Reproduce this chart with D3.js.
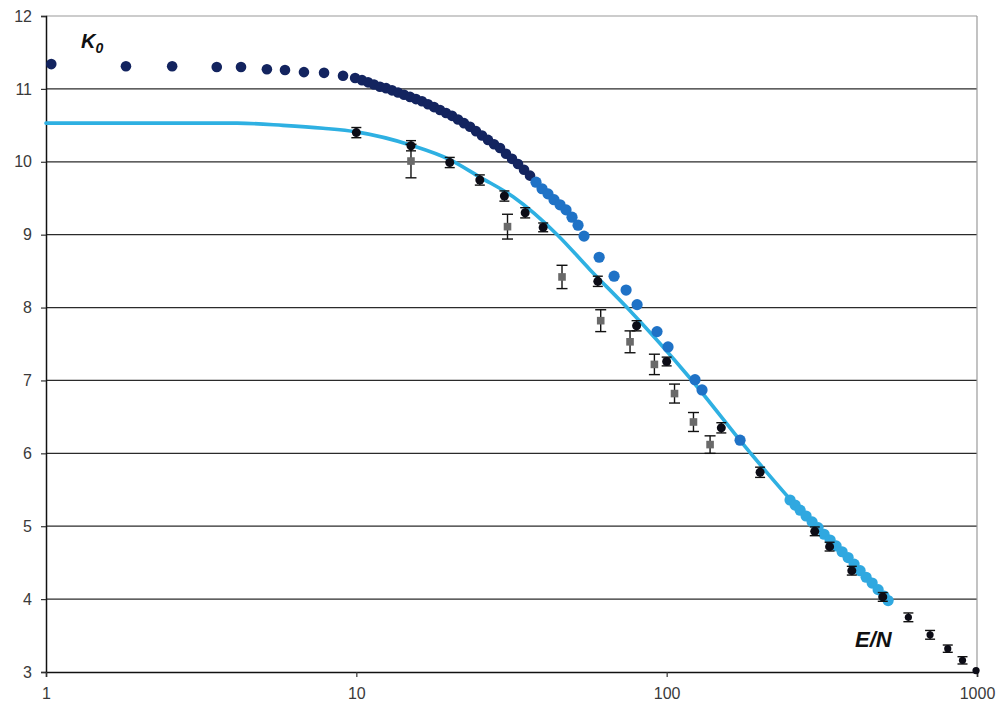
<!DOCTYPE html>
<html><head><meta charset="utf-8">
<script src="https://cdn.jsdelivr.net/npm/d3@7"></script>
<style>
html,body{margin:0;padding:0;background:#fff;}
svg{display:block;}
text{font-family:"Liberation Sans",Arial,sans-serif;}
</style></head>
<body>
<svg id="chart" width="1003" height="708"></svg>
<script>
// ---- data ----
const xTicks = [1, 10, 100, 1000];
const yTicks = [3, 4, 5, 6, 7, 8, 9, 10, 11, 12];

// dark navy series (K0 measured)
const navyX = [1.04, 1.81, 2.55, 3.55, 4.25, 5.15, 5.89, 6.78, 7.87, 9.06, 9.91,
  10.43, 10.91, 11.40, 11.92, 12.47, 13.03, 13.63, 14.25, 14.90, 15.57, 16.28, 17.02, 17.80,
  18.61, 19.46, 20.34, 21.27, 22.23, 23.25, 24.30, 25.41, 26.57, 27.78, 29.04, 30.36, 31.74,
  33.19, 34.70, 36.28];
const navyY = [11.34, 11.31, 11.31, 11.30, 11.30, 11.27, 11.26, 11.23, 11.22, 11.18, 11.15,
  11.12, 11.09, 11.06, 11.03, 11.01, 10.98, 10.95, 10.92, 10.89, 10.86, 10.83, 10.79, 10.75,
  10.71, 10.67, 10.63, 10.58, 10.53, 10.48, 10.42, 10.36, 10.30, 10.24, 10.19, 10.11, 10.04,
  9.97, 9.89, 9.81];

// medium blue series
const medX = [37.93, 39.66, 41.46, 43.35, 45.33, 47.40, 49.55, 51.81, 54.17,
  60.6, 67.7, 74.0, 80.3, 93.1, 101, 123.4, 130, 172.4];
const medY = [9.72, 9.63, 9.56, 9.48, 9.41, 9.34, 9.24, 9.13, 8.98,
  8.69, 8.43, 8.24, 8.04, 7.67, 7.46, 7.01, 6.87, 6.18];

// light blue series
const lightX = [249.8, 259.3, 269.2, 281.4, 294.2, 307.6, 321.6, 336.3, 351.6, 367.6,
  384.3, 401.8, 420.1, 439.3, 459.3, 480.2, 502.0, 517.1];
const lightY = [5.36, 5.29, 5.22, 5.14, 5.06, 4.98, 4.89, 4.81, 4.73, 4.65,
  4.57, 4.48, 4.39, 4.30, 4.22, 4.13, 4.04, 3.98];

// fitted curve
const fitX = [1, 4.13, 5.80, 7.81, 10, 15.2, 20, 25, 32, 44.4, 56.6, 74.5, 119, 185.7, 269, 390, 517];
const fitY = [10.53, 10.53, 10.50, 10.46, 10.41, 10.22, 10.03, 9.79, 9.52, 9.00, 8.52, 8.00, 7.03, 6.01, 5.22, 4.54, 3.96];

// black points with error bars
const blackX = [10, 15, 20, 25, 30, 35, 40, 60, 80, 100, 150, 200, 300, 335, 395, 497, 601, 706, 805, 898, 993];
const blackY = [10.40, 10.22, 9.99, 9.75, 9.53, 9.30, 9.10, 8.36, 7.75, 7.26, 6.35, 5.74, 4.93, 4.72, 4.39, 4.03, 3.75, 3.51, 3.32, 3.16, 3.02];
const blackErr = [0.07, 0.07, 0.07, 0.07, 0.07, 0.07, 0.06, 0.07, 0.07, 0.06, 0.07, 0.07, 0.06, 0.06, 0.06, 0.06, 0.06, 0.06, 0.05, 0.05, 0.0];

// grey squares with error bars
const grayX = [15, 30.7, 46, 61.3, 76.2, 91.3, 106, 122, 138];
const grayY = [10.01, 9.11, 8.42, 7.82, 7.53, 7.22, 6.82, 6.43, 6.12];
const grayErr = [0.23, 0.17, 0.16, 0.15, 0.15, 0.14, 0.13, 0.13, 0.12];

// ---- drawing ----
const svg = d3.select("#chart");
const L = 46, R = 977, T = 16, B = 672;
const x = d3.scaleLog().domain([1, 1000]).range([L, R]);
const y = d3.scaleLinear().domain([3, 12]).range([B, T]);

const zip = (a, b, c) => a.map((v, i) => ({x: v, y: b[i], e: c ? c[i] : 0}));

// gridlines
svg.append("g").selectAll("line").data(yTicks.filter(v => v > 3 && v < 12)).join("line")
  .attr("x1", L).attr("x2", R).attr("y1", d => y(d)).attr("y2", d => y(d))
  .attr("stroke", "#2b2b2b").attr("stroke-width", 1.2);
// frame top/right
svg.append("line").attr("x1", L).attr("x2", R).attr("y1", y(12)).attr("y2", y(12)).attr("stroke", "#9a9a9a").attr("stroke-width", 1.2);
svg.append("line").attr("x1", R).attr("x2", R).attr("y1", T).attr("y2", B).attr("stroke", "#9a9a9a").attr("stroke-width", 1.2);

// axes
const yAxis = svg.append("g").attr("transform", `translate(${L},0)`)
  .call(d3.axisLeft(y).tickValues(yTicks).tickSize(5).tickPadding(9).tickFormat(d3.format("d")));
const xAxis = svg.append("g").attr("transform", `translate(0,${B})`)
  .call(d3.axisBottom(x).tickValues(xTicks).tickSize(5).tickPadding(11).tickFormat(d3.format("d")));
[yAxis, xAxis].forEach(g => {
  g.select(".domain").attr("stroke", "#111").attr("stroke-width", 1.5);
  g.selectAll(".tick line").attr("stroke", "#333").attr("stroke-width", 1.2);
  g.selectAll(".tick text").attr("fill", "#3a3a3a").attr("font-size", 16)
    .attr("font-family", "'Liberation Sans', Arial, sans-serif");
});

// fitted line
svg.append("path").datum(zip(fitX, fitY))
  .attr("fill", "none").attr("stroke", "#2eb0e2").attr("stroke-width", 3.6)
  .attr("stroke-linejoin", "round").attr("stroke-linecap", "round")
  .attr("d", d3.line().x(d => x(d.x)).y(d => y(d.y)).curve(d3.curveMonotoneX));

// blue dot series
function dots(xs, ys, r, color) {
  svg.append("g").selectAll("circle").data(zip(xs, ys)).join("circle")
    .attr("cx", d => x(d.x)).attr("cy", d => y(d.y)).attr("r", r).attr("fill", color);
}
dots(navyX, navyY, 5.3, "#13245f");
dots(medX, medY, 5.6, "#1f72c6");
dots(lightX, lightY, 5.6, "#30a8e0");

// error bars helper
function errBars(data, cap) {
  const g = svg.append("g").attr("stroke", "#111").attr("stroke-width", 1.4);
  data.filter(d => d.e > 0).forEach(d => {
    const cx = x(d.x), y1 = y(d.y - d.e), y2 = y(d.y + d.e);
    g.append("line").attr("x1", cx).attr("x2", cx).attr("y1", y1).attr("y2", y2);
    g.append("line").attr("x1", cx - cap).attr("x2", cx + cap).attr("y1", y1).attr("y2", y1);
    g.append("line").attr("x1", cx - cap).attr("x2", cx + cap).attr("y1", y2).attr("y2", y2);
  });
}

// grey squares
const grayData = zip(grayX, grayY, grayErr);
errBars(grayData, 5.5);
svg.append("g").selectAll("rect").data(grayData).join("rect")
  .attr("x", d => x(d.x) - 3.8).attr("y", d => y(d.y) - 3.8)
  .attr("width", 7.6).attr("height", 7.6).attr("fill", "#6a6a6a");

// black points
const blackData = zip(blackX, blackY, blackErr);
errBars(blackData, 5);
svg.append("g").selectAll("circle").data(blackData).join("circle")
  .attr("cx", d => x(d.x)).attr("cy", d => y(d.y)).attr("r", (d, i) => i >= 16 ? 3.6 : 4.5)
  .attr("fill", "#0c0c16");

// labels
const k = svg.append("text").attr("x", 81).attr("y", 48)
  .attr("font-size", 20).attr("font-weight", "bold").attr("font-style", "italic").attr("fill", "#111");
k.append("tspan").text("K");
k.append("tspan").attr("font-size", 14).attr("dy", 5).text("0");

svg.append("text").attr("x", 855).attr("y", 647)
  .attr("font-size", 22).attr("font-weight", "bold").attr("font-style", "italic").attr("fill", "#111")
  .text("E/N");
</script>
</body></html>
